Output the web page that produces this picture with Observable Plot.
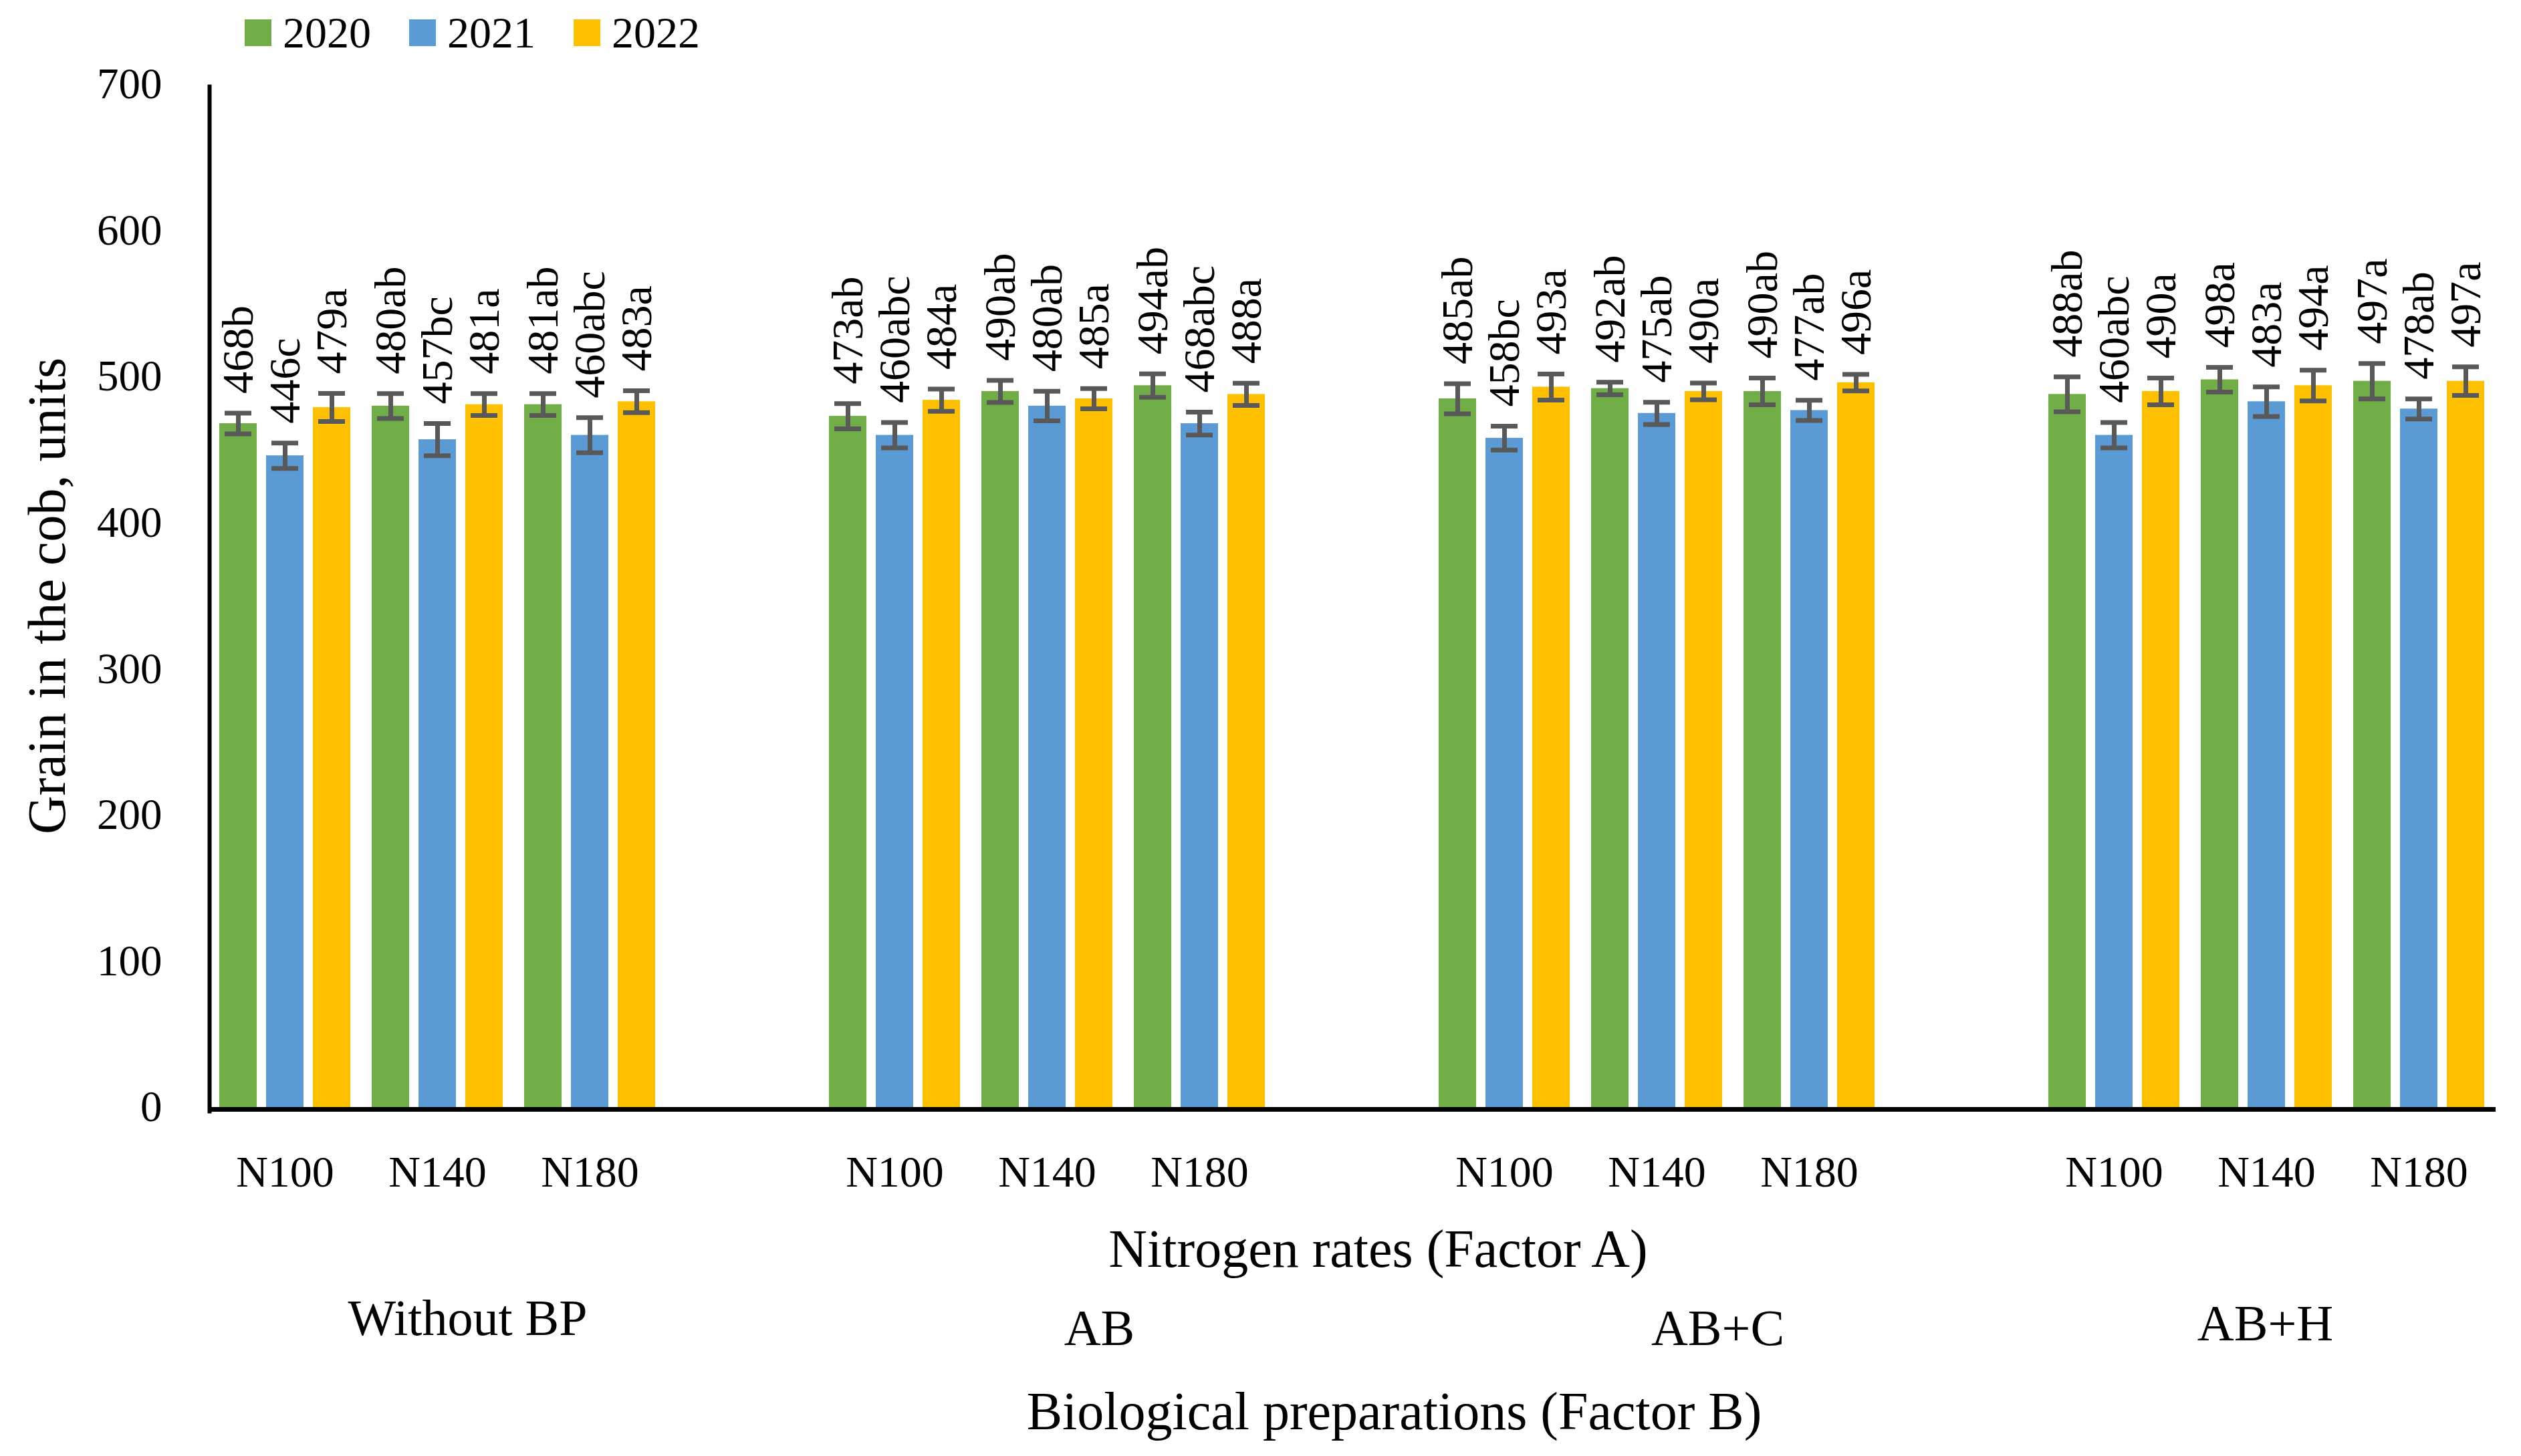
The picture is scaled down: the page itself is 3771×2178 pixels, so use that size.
<!DOCTYPE html>
<html><head><meta charset="utf-8">
<script src="https://cdn.jsdelivr.net/npm/d3@7"></script>
<script src="https://cdn.jsdelivr.net/npm/@observablehq/plot@0.6"></script>
<style>
html,body{margin:0;padding:0;background:#fff;}
#chart{width:3771px;position:relative;font-family:"Liberation Serif",serif;color:#000;}
#legend{position:relative;height:100px;}
#legend .items{position:absolute;top:29px;left:366px;height:40px;display:flex;align-items:center;gap:57px;}
#legend .item{display:flex;align-items:center;gap:17px;font-size:66px;line-height:66px;}
#legend .sw{width:40px;height:40px;}
svg{display:block;}
</style></head>
<body><div id="chart"><div id="legend"><div class="items"></div></div></div>
<script>
// ---- data ----
const groups = ["Without BP", "AB", "AB+C", "AB+H"];
const rates = ["N100", "N140", "N180"];
const years = ["2020", "2021", "2022"];
const colors = ["#70AD47", "#5B9BD5", "#FFC000"];
const yTicks = [0, 100, 200, 300, 400, 500, 600, 700];
// values in order: group x rate (Without BP N100..N180, AB N100..N180, AB+C ..., AB+H ...)
const values2020 = [468, 480, 481, 473, 490, 494, 485, 492, 490, 488, 498, 497];
const values2021 = [446, 457, 460, 460, 480, 468, 458, 475, 477, 460, 483, 478];
const values2022 = [479, 481, 483, 484, 485, 488, 493, 490, 496, 490, 494, 497];
const letters2020 = ["b", "ab", "ab", "ab", "ab", "ab", "ab", "ab", "ab", "ab", "a", "a"];
const letters2021 = ["c", "bc", "abc", "abc", "ab", "abc", "bc", "ab", "ab", "abc", "a", "ab"];
const letters2022 = ["a", "a", "a", "a", "a", "a", "a", "a", "a", "a", "a", "a"];
const errors2020 = [7.1, 8.5, 7.5, 8.6, 7.6, 8.0, 10.3, 4.3, 9.2, 11.9, 8.5, 12.1];
const errors2021 = [8.7, 11.0, 12.0, 8.7, 10.1, 7.8, 8.2, 7.6, 6.9, 8.7, 10.1, 6.9];
const errors2022 = [9.6, 7.5, 7.5, 7.6, 6.9, 7.6, 8.9, 5.7, 5.7, 9.2, 10.5, 9.8];
const yTitle = "Grain in the cob, units";
const xTitleA = "Nitrogen rates (Factor A)";
const xTitleB = "Biological preparations (Factor B)";

// ---- layout (positions/styles) ----
const layout = {
  width: 3771, height: 2078,
  marginTop: 26, marginBottom: 522, marginLeft: 308, marginRight: 36,
  groupDx: [45, 78, 91, -2], groupDy: [316, 331, 331, 324],
  font: "'Liberation Serif', 'Times New Roman', serif"
};

// ---- build table ----
const valuesByYear = [values2020, values2021, values2022];
const lettersByYear = [letters2020, letters2021, letters2022];
const errorsByYear = [errors2020, errors2021, errors2022];
const slotKey = (g, r) => g + "|" + r;
const slotKeys = [];
const slotRows = [];
groups.forEach((g, gi) => {
  rates.forEach(r => { slotKeys.push(slotKey(g, r)); slotRows.push({slot: slotKey(g, r), rate: r}); });
  if (gi < groups.length - 1) { slotKeys.push("gap" + gi); slotRows.push({slot: "gap" + gi, rate: ""}); }
});
const rows = [];
groups.forEach((g, gi) => rates.forEach((r, ri) => years.forEach((y, yi) => {
  const k = gi * rates.length + ri;
  rows.push({slot: slotKey(g, r), group: g, rate: r, year: y,
    value: valuesByYear[yi][k], err: errorsByYear[yi][k],
    label: valuesByYear[yi][k] + lettersByYear[yi][k]});
})));

// ---- legend ----
const items = document.querySelector("#legend .items");
years.forEach((y, i) => {
  const it = document.createElement("div"); it.className = "item";
  const sw = document.createElement("div"); sw.className = "sw"; sw.style.background = colors[i];
  const tx = document.createElement("span"); tx.textContent = y;
  it.append(sw, tx); items.append(it);
});

// ---- chart ----
const chart = Plot.plot({
  width: layout.width, height: layout.height,
  marginTop: layout.marginTop, marginBottom: layout.marginBottom,
  marginLeft: layout.marginLeft, marginRight: layout.marginRight,
  style: {fontFamily: layout.font, background: "#fff", overflow: "visible", color: "#000"},
  fx: {domain: slotKeys, paddingInner: 0.142, paddingOuter: 0.071, axis: null, label: null},
  x: {domain: years, paddingInner: 0.2, paddingOuter: 0, axis: null, label: null},
  y: {domain: [0, 700], axis: null, label: null},
  color: {domain: years, range: colors},
  marks: [
    Plot.barY(rows, {fx: "slot", x: "year", y: "value", fill: "year"}),
    Plot.ruleX(rows, {fx: "slot", x: "year", y1: d => d.value - d.err, y2: d => d.value + d.err, stroke: "#595959", strokeWidth: 7}),
    Plot.tickY(rows, {fx: "slot", x: "year", y: d => d.value + d.err, stroke: "#595959", strokeWidth: 7, insetLeft: 8, insetRight: 8}),
    Plot.tickY(rows, {fx: "slot", x: "year", y: d => d.value - d.err, stroke: "#595959", strokeWidth: 7, insetLeft: 8, insetRight: 8}),
    Plot.text(rows, {fx: "slot", x: "year", y: d => d.value + d.err, text: "label", rotate: -90, textAnchor: "start", lineAnchor: "middle", dy: -29, fontSize: 66, fill: "#000"}),
    Plot.ruleY([0], {stroke: "#000", strokeWidth: 7, dy: 3, insetLeft: -17, insetRight: -17}),
    Plot.frame({anchor: "left", fx: () => slotKeys[0], stroke: "#000", strokeWidth: 6, insetLeft: -15, insetTop: 3, insetBottom: -6}),
    Plot.axisY(yTicks, {tickSize: 0, tickPadding: 86, fontSize: 65, label: null, fill: "#000"}),
    Plot.text(slotRows, {fx: "slot", text: "rate", frameAnchor: "bottom", lineAnchor: "middle", dy: 97, fontSize: 66, fill: "#000"}),
    ...groups.map((g, i) => Plot.text([g], {fx: () => slotKey(g, rates[1]), text: d => d, frameAnchor: "bottom", lineAnchor: "middle", dx: layout.groupDx[i], dy: layout.groupDy[i], fontSize: 76, fill: "#000"})),
    Plot.text([xTitleA], {fx: () => "gap1", text: d => d, frameAnchor: "bottom", lineAnchor: "middle", dx: 39, dy: 213, fontSize: 80, fill: "#000"}),
    Plot.text([xTitleB], {fx: () => "gap1", text: d => d, frameAnchor: "bottom", lineAnchor: "middle", dx: 63, dy: 456, fontSize: 80, fill: "#000"}),
    Plot.text([yTitle], {fx: () => slotKeys[0], text: d => d, frameAnchor: "left", rotate: -90, textAnchor: "middle", lineAnchor: "middle", dx: -257, fontSize: 80, fill: "#000"})
  ]
});
document.getElementById("chart").append(chart);
</script>
</body></html>
